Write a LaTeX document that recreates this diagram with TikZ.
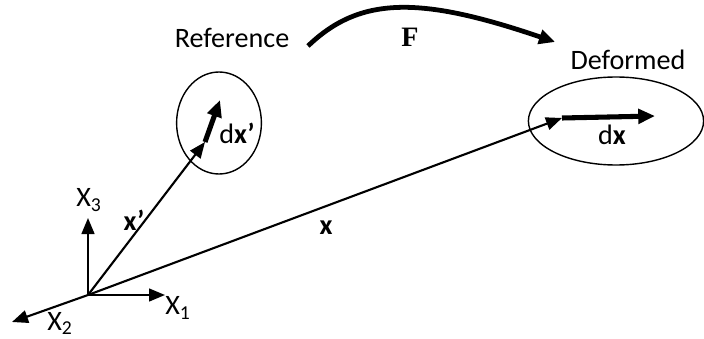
\documentclass[tikz,border=0pt]{standalone}
\usepackage{fontspec}
\setmainfont{Carlito}
\newfontfamily\ffont{Liberation Serif}
\usepackage{tikz}
\usetikzlibrary{arrows.meta,shapes.geometric}
\tikzset{
  lbl/.style={font=\fontsize{20}{24}\selectfont, inner sep=1pt},
  region/.style={draw=black, ellipse, line width=1pt, inner sep=0pt},
  axis/.style={-{Triangle[length=0.4cm, width=0.32cm]}, line width=1.5pt},
  vec/.style={-{Triangle[length=0.4cm, width=0.32cm]}, line width=1.5pt},
  dvec/.style={-{Triangle[length=0.42cm, width=0.36cm]}, line width=3.6pt},
  map/.style={-{Triangle[length=0.4cm, width=0.36cm]}, line width=3.4pt}
}
\begin{document}
\begin{tikzpicture}
  \useasboundingbox (0,0) rectangle (17.6,8.45);
  \coordinate (O) at (2.2,1.075);
  \coordinate (e3) at (2.2,3.0);
  \coordinate (e1) at (4.125,1.075);
  \coordinate (e2) at (0.3,0.4);
  \coordinate (xp) at (5.125,4.9);
  \coordinate (dxp) at (5.5,5.95);
  \coordinate (xd) at (14.05,5.5);
  \coordinate (dxd) at (16.375,5.55);
  \node[region, minimum width=2.12cm, minimum height=2.55cm] (refreg) at (5.475,5.375) {};
  \node[region, minimum width=4.38cm, minimum height=2.2cm] (defreg) at (15.4,5.425) {};
  \node[lbl] (reflbl) at (5.8,7.5) {Reference};
  \node[lbl] (deflbl) at (15.7,6.95) {Deformed};
  \node[lbl, font=\fontsize{20}{24}\selectfont\ffont\bfseries] (Flbl) at (10.25,7.525) {F};
  \coordinate (Fstart) at (7.7,7.3);
  \coordinate (Fend) at (13.875,7.4);
  \draw[map] (Fstart) .. controls (9,8.55) and (10.5,8.55) .. (Fend);
  \draw[axis] (O) -- (e3);
  \draw[axis] (O) -- (e1);
  \draw[axis] (O) -- (e2);
  \node[lbl] (X3) at (2.225,3.45) {X\textsubscript{3}};
  \node[lbl] (X1) at (4.45,0.75) {X\textsubscript{1}};
  \node[lbl] (X2) at (1.5,0.36) {X\textsubscript{2}};
  \draw[vec] (O) -- (xp);
  \draw[dvec] (xp) -- (dxp);
  \draw[vec] (O) -- (xd);
  \draw[dvec] (xd) -- (dxd);
  \node[lbl] (xplbl) at (3.35,2.95) {\textbf{x’}};
  \node[lbl] (dxplbl) at (5.925,5.125) {d\textbf{x’}};
  \node[lbl] (xlbl) at (8.15,2.75) {\textbf{x}};
  \node[lbl] (dxlbl) at (15.3,5.075) {d\textbf{x}};
\end{tikzpicture}
\end{document}
